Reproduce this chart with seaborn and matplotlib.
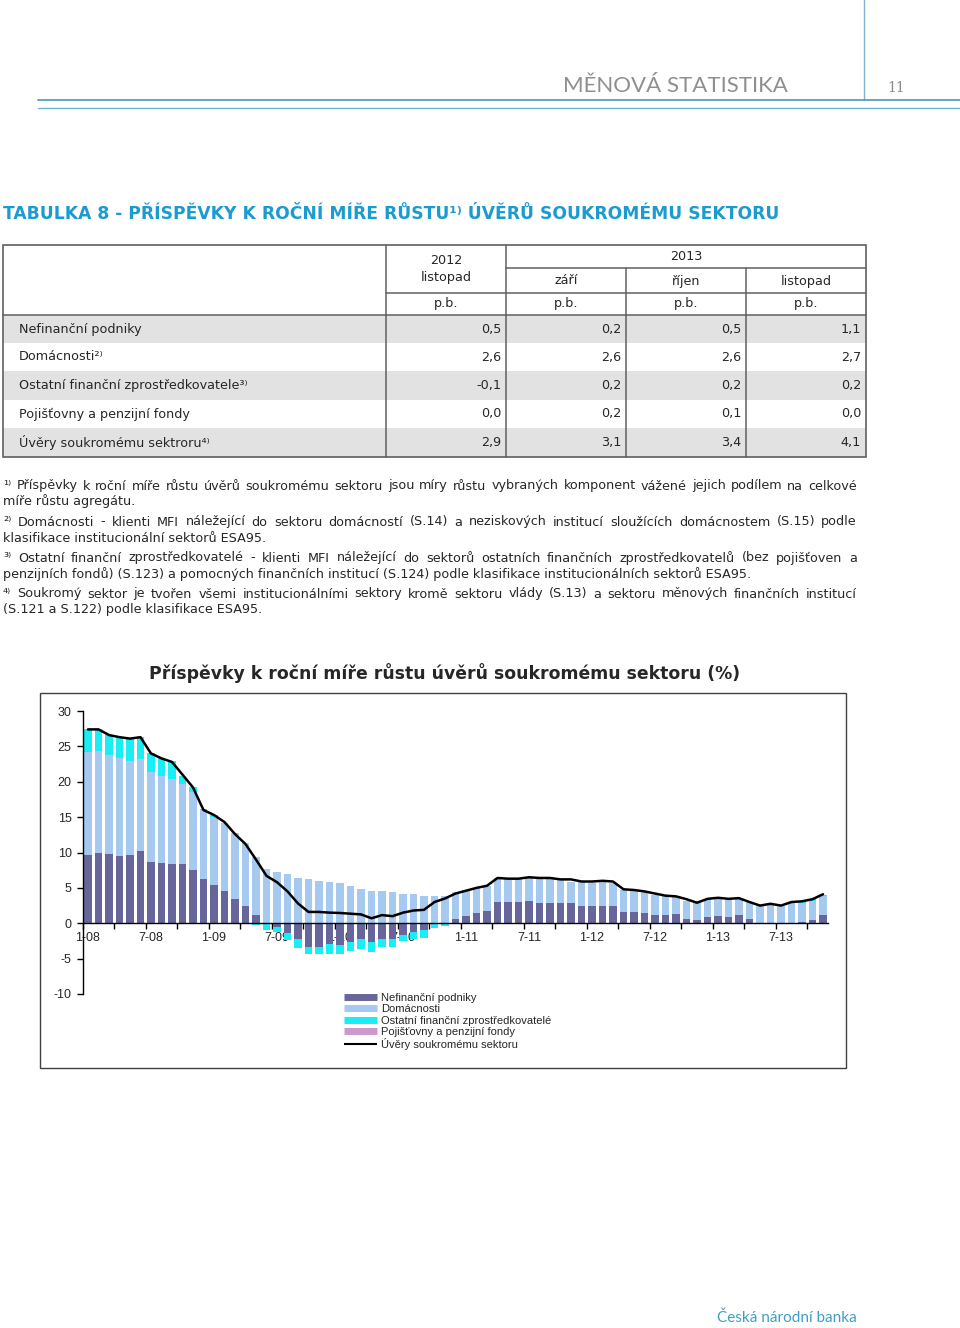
import numpy as np
import matplotlib
matplotlib.use("Agg")
import matplotlib.pyplot as plt
import seaborn as sns
from matplotlib.lines import Line2D
from matplotlib.patches import Rectangle

# table data
row_labels = ["Nefinanční podniky", "Domácnosti²⁾", "Ostatní finanční zprostředkovatele³⁾",
              "Pojišťovny a penzijní fondy", "Úvěry soukromému sektroru⁴⁾"]
col_months = ["září", "říjen", "listopad"]
tab_2012_nov = [0.5, 2.6, -0.1, 0.0, 2.9]
tab_2013_sep = [0.2, 2.6, 0.2, 0.2, 3.1]
tab_2013_oct = [0.5, 2.6, 0.2, 0.1, 3.4]
tab_2013_nov = [1.1, 2.7, 0.2, 0.0, 4.1]

# chart data, 1-08 .. 11-13 (p.b.)
nfc = [9.7, 10.0, 9.8, 9.5, 9.6, 10.2, 8.6, 8.5, 8.4, 8.4, 7.5, 6.3,
       5.4, 4.5, 3.4, 2.4, 1.2, -0.1, -0.6, -1.4, -2.2, -3.3, -3.3, -3.0,
       -3.1, -2.7, -2.2, -2.7, -2.2, -2.2, -1.7, -1.3, -1.0, 0.0, 0.0, 0.6,
       1.0, 1.5, 1.7, 3.0, 3.0, 3.0, 3.1, 2.9, 2.9, 2.9, 2.8, 2.5,
       2.4, 2.4, 2.4, 1.65, 1.55, 1.45, 1.2, 1.1, 1.3, 0.55, 0.5, 0.9,
       1.0, 0.9, 1.1, 0.6, 0.0, 0.0, -0.15, 0.0, 0.2, 0.5, 1.1]
households = [14.5, 14.4, 14.0, 13.8, 13.4, 13.0, 12.8, 12.3, 12.0, 11.3, 11.0, 9.7,
              9.6, 9.6, 9.3, 8.9, 8.2, 7.6, 7.2, 6.9, 6.4, 6.2, 6.0, 5.8,
              5.7, 5.2, 4.9, 4.6, 4.6, 4.4, 4.2, 4.1, 3.9, 3.8, 3.8, 3.8,
              3.7, 3.5, 3.5, 3.4, 3.2, 3.2, 3.3, 3.4, 3.4, 3.3, 3.1, 3.3,
              3.3, 3.4, 3.3, 3.05, 3.05, 2.95, 2.8, 2.7, 2.5, 2.65, 2.6, 2.55,
              2.5, 2.45, 2.35, 2.4, 2.5, 2.7, 2.5, 2.9, 2.6, 2.6, 2.7]
ofi = [3.2, 3.1, 2.8, 2.9, 3.1, 3.1, 2.7, 2.6, 2.6, 1.1, 0.7, 0.2,
       0.3, 0.0, 0.0, 0.0, -0.3, -0.8, -0.7, -0.9, -1.3, -1.1, -1.0, -1.3,
       -1.2, -1.2, -1.4, -1.3, -1.2, -1.2, -0.8, -0.9, -1.1, -0.7, -0.4, -0.1,
       0.0, 0.0, 0.0, -0.1, 0.0, 0.0, 0.0, 0.0, 0.0, 0.0, 0.0, 0.0,
       0.0, 0.0, 0.0, 0.0, 0.0, 0.0, 0.0, 0.0, 0.0, 0.0, -0.1, 0.0,
       0.0, 0.0, 0.0, 0.0, 0.0, 0.0, 0.0, 0.1, 0.2, 0.2, 0.2]
icpf = [0.0] * 68 + [0.2, 0.1, 0.0]
total = [27.4, 27.4, 26.6, 26.3, 26.1, 26.3, 24.0, 23.3, 22.8, 21.0, 19.2, 16.0,
         15.3, 14.3, 12.6, 11.2, 9.0, 6.7, 5.8, 4.5, 2.8, 1.6, 1.6, 1.5,
         1.45, 1.35, 1.25, 0.7, 1.15, 1.0, 1.5, 1.8, 1.9, 3.0, 3.5, 4.2,
         4.6, 5.0, 5.3, 6.4, 6.3, 6.3, 6.5, 6.4, 6.4, 6.2, 6.2, 5.9,
         5.9, 6.0, 5.9, 4.8, 4.7, 4.5, 4.2, 3.9, 3.8, 3.4, 2.9, 3.45,
         3.6, 3.45, 3.55, 3.0, 2.5, 2.75, 2.5, 3.0, 3.1, 3.4, 4.1]
xtick_labels = ["1-08", "7-08", "1-09", "7-09", "1-10", "7-10",
                "1-11", "7-11", "1-12", "7-12", "1-13", "7-13"]
series_names = ["Nefinanční podniky", "Domácnosti", "Ostatní finanční zprostředkovatelé",
                "Pojišťovny a penzijní fondy", "Úvěry soukromému sektoru"]
colors = ["#66669a", "#a6c9ef", "#18eef4", "#cc99cc"]

footnotes = [
    ("¹⁾ Příspěvky k roční míře růstu  úvěrů soukromému sektoru jsou míry růstu vybraných komponent vážené jejich podílem na celkové", 486, True),
    ("míře růstu agregátu.", 501, False),
    ("²⁾ Domácnosti - klienti MFI náležející do sektoru domácností (S.14) a neziskových institucí sloužících domácnostem (S.15) podle", 522, True),
    ("klasifikace institucionální sektorů ESA95.", 538, False),
    ("³⁾ Ostatní finanční zprostředkovatelé - klienti MFI náležející do sektorů ostatních finančních zprostředkovatelů (bez pojišťoven a", 558, True),
    ("penzijních fondů) (S.123) a pomocných finančních institucí (S.124) podle klasifikace institucionálních sektorů ESA95.", 574, False),
    ("⁴⁾ Soukromý sektor je tvořen všemi institucionálními sektory kromě sektoru vlády (S.13) a sektoru měnových finančních institucí", 594, True),
    ("(S.121 a S.122) podle klasifikace ESA95.", 610, False),
]

W, H = 960, 1328
sns.set_style("ticks")
plt.rcParams['font.family'] = ['DejaVu Sans']
FS = 9.2

fig = plt.figure(figsize=(W / 100, H / 100), dpi=100)
page = fig.add_axes([0, 0, 1, 1])
page.set_xlim(0, W)
page.set_ylim(H, 0)
page.axis('off')

# header
page.plot([863.5, 863.5], [0, 100], color='#7fb2d0', lw=1)
page.plot([38, 960], [100, 100], color='#5a9ec2', lw=1.3)
page.plot([38, 960], [108, 108], color='#72b2ca', lw=1)
page.text(788, 86, "MĚNOVÁ STATISTIKA", ha='right', va='center', fontsize=16,
          color='#8f8f8f', family=['Lato', 'DejaVu Sans'])
page.text(896, 88, "11", ha='center', va='center', fontsize=10, color='#8c8c8c', family='DejaVu Serif')

page.text(3, 214, "TABULKA 8 - PŘÍSPĚVKY K ROČNÍ MÍŘE RŮSTU¹⁾ ÚVĚRŮ SOUKROMÉMU SEKTORU",
          fontsize=12.3, weight='bold', color='#1b9bd1', va='center')

# table
xs = [3, 386, 506, 626, 746, 866]
ys = [315, 343, 371, 400, 428, 457]
for i in range(5):
    if i % 2 == 0:
        page.add_patch(Rectangle((xs[0], ys[i]), xs[-1] - xs[0], ys[i + 1] - ys[i], color='#e2e2e2', lw=0))
lc = '#606060'
page.add_patch(Rectangle((3, 245), 863, 212, fill=False, ec=lc, lw=1.2))
for xv, y0 in [(386, 245), (506, 245), (626, 268), (746, 268)]:
    page.plot([xv, xv], [y0, 457], color=lc, lw=1.1)
page.plot([506, 866], [268, 268], color=lc, lw=1.1)
page.plot([386, 866], [293, 293], color=lc, lw=1.1)
page.plot([3, 866], [315, 315], color=lc, lw=1.1)

page.text(446, 261, "2012", ha='center', va='center', fontsize=FS)
page.text(446, 277, "listopad", ha='center', va='center', fontsize=FS)
page.text(686, 257, "2013", ha='center', va='center', fontsize=FS)
for j, m in enumerate(col_months):
    page.text((xs[j + 2] + xs[j + 3]) / 2, 281, m, ha='center', va='center', fontsize=FS)
for j in range(4):
    page.text((xs[j + 1] + xs[j + 2]) / 2, 303, "p.b.", ha='center', va='center', fontsize=FS)

cols = [tab_2012_nov, tab_2013_sep, tab_2013_oct, tab_2013_nov]
for i, lab in enumerate(row_labels):
    yc = (ys[i] + ys[i + 1]) / 2
    page.text(19, yc, lab, ha='left', va='center', fontsize=FS)
    for j, col in enumerate(cols):
        page.text(xs[j + 2] - 5, yc, f"{col[i]:.1f}".replace('.', ','), ha='right', va='center', fontsize=FS)

# footnotes, justified
renderer = fig.canvas.get_renderer()
for s, y, just in footnotes:
    if not just:
        page.text(3, y, s, ha='left', va='center', fontsize=FS)
        continue
    words = s.split()
    arts = [page.text(0, y, w, ha='left', va='center', fontsize=FS) for w in words]
    widths = [a.get_window_extent(renderer).width for a in arts]
    gap = (857 - 3 - sum(widths)) / (len(words) - 1)
    xpos = 3
    for a, w in zip(arts, widths):
        a.set_x(xpos)
        xpos += w + gap

# chart frame and title
page.add_patch(Rectangle((40, 693), 806, 375, fill=False, ec='#404040', lw=1))
page.text(445, 673, "Příspěvky k roční míře růstu úvěrů soukromému sektoru (%)",
          ha='center', va='center', fontsize=12.4, weight='bold')

ax = fig.add_axes([82.75 / W, 1 - 994 / H, 745.5 / W, 283 / H])
x = np.arange(len(nfc))
pos_base = np.zeros(len(x))
neg_base = np.zeros(len(x))
for vals, c in zip([nfc, households, ofi, icpf], colors):
    v = np.array(vals)
    base = np.where(v >= 0, pos_base, neg_base)
    ax.bar(x, v, bottom=base, width=0.76, color=c, lw=0)
    pos_base += np.clip(v, 0, None)
    neg_base += np.clip(v, None, 0)
sns.lineplot(x=x, y=total, ax=ax, color='black', lw=1.8)

ax.set_xlim(-0.5, 70.5)
ax.set_ylim(-10, 30)
sns.despine(ax=ax)
ax.spines['bottom'].set_position(('data', 0))
for sp in ['left', 'bottom']:
    ax.spines[sp].set_color('black')
    ax.spines[sp].set_linewidth(1)
ax.set_yticks(range(-10, 31, 5))
ax.set_yticklabels([str(v) for v in range(-10, 31, 5)], family='Liberation Sans', fontsize=9)
ax.tick_params(axis='y', direction='out', length=4, width=1, pad=4, color='black')
ax.set_xticks(np.arange(-0.5, 71, 3))
ax.set_xticklabels([])
ax.set_xticks(np.arange(0, 71, 6), minor=True)
ax.set_xticklabels(xtick_labels, minor=True, family='Liberation Sans', fontsize=9)
ax.tick_params(axis='x', which='major', direction='out', length=4, width=1, color='black')
ax.tick_params(axis='x', which='minor', length=0, pad=6)
ax.set_xlabel('')
ax.set_ylabel('')

handles = [Line2D([], [], color=c, lw=5, solid_capstyle='butt') for c in colors] + \
          [Line2D([], [], color='black', lw=1.5, solid_capstyle='butt')]
fig.legend(handles, series_names, loc='upper left', bbox_to_anchor=(344 / W, 1 - 993 / H),
           frameon=False, prop={'family': 'Liberation Sans', 'size': 8}, handlelength=3.0,
           handletextpad=0.3, labelspacing=0.12, borderaxespad=0, borderpad=0)

page.text(857, 1318, "Česká národní banka", ha='right', va='center', fontsize=11,
          color='#3f9fc3', family=['Lato', 'DejaVu Sans'])

fig.savefig('out.png', dpi=100)
